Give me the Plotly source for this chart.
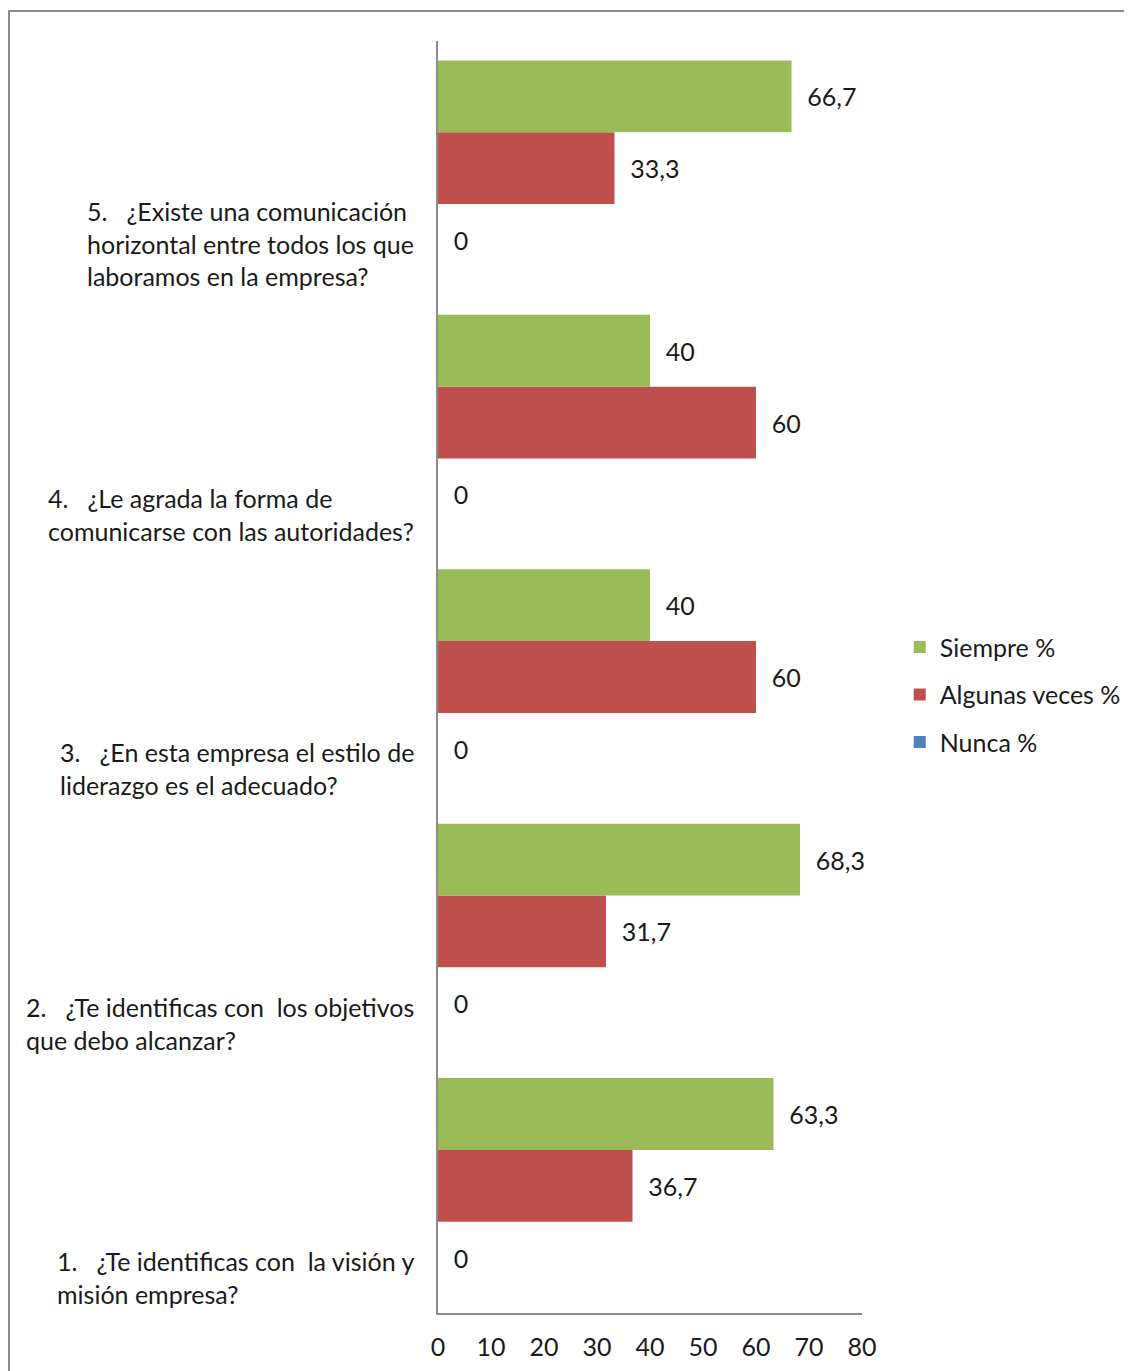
import plotly.graph_objects as go

categories = ["Q1", "Q2", "Q3", "Q4", "Q5"]
question_labels = [
    "1.\u00a0\u00a0\u00a0¿Te identificas con\u00a0\u00a0la visión y<br>misión empresa?",
    "2.\u00a0\u00a0\u00a0¿Te identificas con\u00a0\u00a0los objetivos<br>que debo alcanzar?",
    "3.\u00a0\u00a0\u00a0¿En esta empresa el estilo de<br>liderazgo es el adecuado?",
    "4.\u00a0\u00a0\u00a0¿Le agrada la forma de<br>comunicarse con las autoridades?",
    "5.\u00a0\u00a0\u00a0¿Existe una comunicación<br>horizontal entre todos los que<br>laboramos en la empresa?",
]
siempre = [63.3, 68.3, 40, 40, 66.7]
algunas = [36.7, 31.7, 60, 60, 33.3]
nunca = [0, 0, 0, 0, 0]
x_ticks = [0, 10, 20, 30, 40, 50, 60, 70, 80]

FONT = "Lato"
FS = 25
TXT = "#1a1a1a"

def fmt(v):
    s = ("%.1f" % v).rstrip("0").rstrip(".")
    return "\u00a0\u00a0" + s.replace(".", ",")

fig = go.Figure()
series = [
    ("Nunca %", nunca, "#4F81BD", 3),
    ("Algunas veces %", algunas, "#C0504D", 2),
    ("Siempre %", siempre, "#9BBB59", 1),
]
for name, vals, col, rank in series:
    fig.add_trace(go.Bar(
        y=categories, x=vals, orientation="h", name=name,
        marker=dict(color=col, line=dict(width=0)),
        text=[fmt(v) for v in vals], textposition="outside",
        textfont=dict(family=FONT, size=FS, color=TXT),
        cliponaxis=False, legendgroup=name, legendrank=rank,
    ))

for i, lab in enumerate(question_labels):
    fig.add_annotation(
        xref="paper", yref="y", x=-0.052, y=i - 0.5,
        xanchor="right", yanchor="bottom", align="left",
        text=lab, showarrow=False, yshift=2,
        font=dict(family=FONT, size=FS, color=TXT),
    )

fig.add_shape(type="rect", xref="paper", yref="paper",
              x0=-1.0118, x1=2.0, y0=-0.5, y1=1.0236,
              line=dict(color="#8c8c8c", width=2), fillcolor="rgba(0,0,0,0)")

fig.update_layout(
    template="none",
    width=1124, height=1363,
    margin=dict(l=430, r=270, t=33, b=58, autoexpand=False),
    paper_bgcolor="white", plot_bgcolor="white",
    barmode="group", bargap=0.153, bargroupgap=0,
    font=dict(family=FONT, size=FS, color=TXT),
    showlegend=True,
    legend=dict(x=1.089, y=0.486, xanchor="left", yanchor="middle",
                traceorder="grouped", tracegroupgap=12,
                font=dict(family=FONT, size=FS, color=TXT),
                bgcolor="rgba(0,0,0,0)", borderwidth=0),
    xaxis=dict(range=[0, 80], tickvals=x_ticks, ticktext=[str(t) for t in x_ticks],
               showgrid=False, zeroline=False, showline=True, linecolor="#8c8c8c",
               linewidth=2, ticks="", ticklabelstandoff=11, automargin=False,
               tickfont=dict(family=FONT, size=FS, color=TXT)),
    yaxis=dict(showticklabels=False, showgrid=False, zeroline=False,
               showline=True, linecolor="#8c8c8c", linewidth=2, ticks="",
               categoryorder="array", categoryarray=categories,
               range=[-0.5, 4.5], automargin=False),
)

fig.write_html("out.html")
